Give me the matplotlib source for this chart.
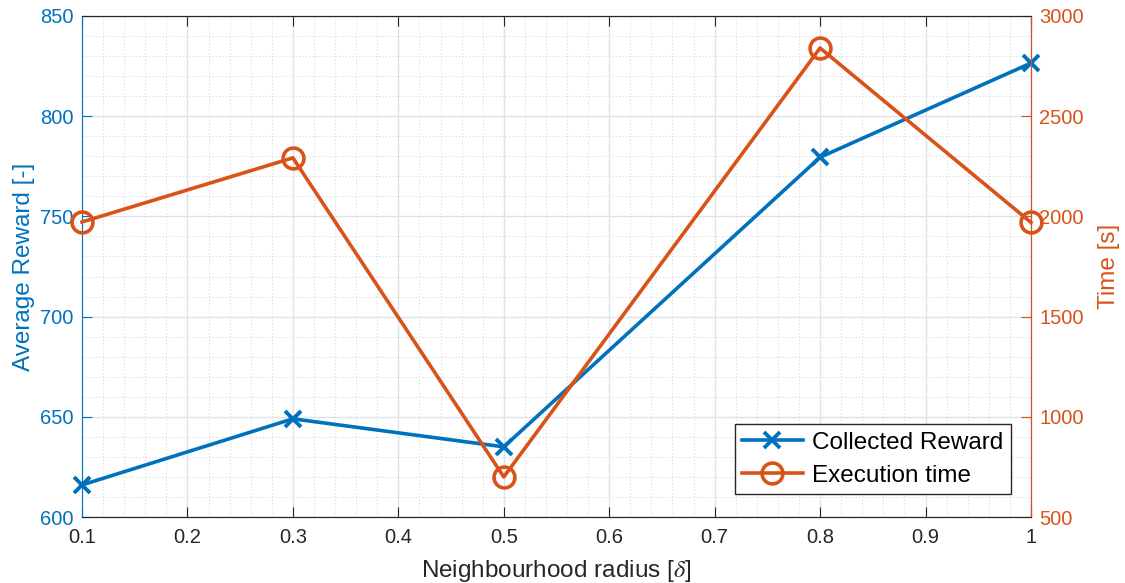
import matplotlib
matplotlib.use("Agg")
import matplotlib.pyplot as plt
from matplotlib.ticker import MultipleLocator

plt.rcParams['font.family'] = ['Liberation Sans', 'DejaVu Sans']
plt.rcParams['mathtext.fontset'] = 'stix'

radius = [0.1, 0.3, 0.5, 0.8, 1.0]
reward = [616, 649, 635, 779.5, 826.5]
exec_time = [1972, 2292, 700, 2840, 1970]

BLUE = '#0072BD'
ORANGE = '#D95319'
DARK = '#262626'

fig = plt.figure(figsize=(11.25, 5.83), dpi=100)
ax = fig.add_axes([0.0729, 0.1132, 0.9164 - 0.0729, 0.9726 - 0.1132])
ax2 = ax.twinx()

l1, = ax.plot(radius, reward, color=BLUE, lw=2.6, marker='x', ms=11, mew=2.8,
              label='Collected Reward', clip_on=False, zorder=3)
l2, = ax2.plot(radius, exec_time, color=ORANGE, lw=2.6, marker='o', ms=15, mew=2.6,
               mfc='none', label='Execution time', clip_on=False, zorder=3)

ax.set_xlim(0.1, 1.0)
ax.set_ylim(600, 850)
ax2.set_ylim(500, 3000)

ax.xaxis.set_major_locator(MultipleLocator(0.1))
ax.xaxis.set_minor_locator(MultipleLocator(0.02))
ax.yaxis.set_major_locator(MultipleLocator(50))
ax.yaxis.set_minor_locator(MultipleLocator(10))
ax2.yaxis.set_major_locator(MultipleLocator(500))
ax2.yaxis.set_minor_locator(MultipleLocator(100))

ax.set_xticks([0.1, 0.2, 0.3, 0.4, 0.5, 0.6, 0.7, 0.8, 0.9, 1.0])
ax.set_xticklabels(['0.1', '0.2', '0.3', '0.4', '0.5', '0.6', '0.7', '0.8', '0.9', '1'])

ax.grid(which='major', color='#dfe3e8', lw=1.0, ls='-')
ax.grid(which='minor', color='#d5d9de', lw=0.8, ls=(0, (1, 2)))
ax.set_axisbelow(True)

ax.tick_params(axis='x', which='major', direction='in', length=7, colors=DARK,
               labelsize=14.5, top=True, pad=8)
ax.tick_params(axis='x', which='minor', length=0, top=False)
ax.tick_params(axis='y', which='major', direction='in', length=7, colors=BLUE,
               labelsize=14.5, pad=6)
ax.tick_params(axis='y', which='minor', length=0)
ax2.tick_params(axis='y', which='major', direction='in', length=7, colors=ORANGE,
                labelsize=14.5, pad=6)
ax2.tick_params(axis='y', which='minor', length=0)

for s in ['top', 'bottom']:
    ax.spines[s].set_color(DARK)
ax.spines['left'].set_color(BLUE)
ax2.spines['right'].set_color(ORANGE)
ax2.spines['left'].set_visible(False)
ax2.spines['top'].set_color(DARK)
ax2.spines['bottom'].set_color(DARK)

ax.set_xlabel(r'Neighbourhood radius [$\delta$]', fontsize=17.5, color=DARK, labelpad=8)
ax.set_ylabel('Average Reward [-]', fontsize=17.5, color=BLUE, labelpad=4)
ax2.set_ylabel('Time [s]', fontsize=17.5, color=ORANGE, labelpad=10)

leg = ax2.legend(handles=[l1, l2], loc='lower right', bbox_to_anchor=(0.979, 0.046),
                 fontsize=17.5, frameon=True, fancybox=False, framealpha=1,
                 edgecolor=DARK, handlelength=2.5, handletextpad=0.4,
                 borderpad=0.3, labelspacing=0.45, borderaxespad=0)
leg.get_frame().set_linewidth(1.0)

fig.savefig('out.png', dpi=100)
